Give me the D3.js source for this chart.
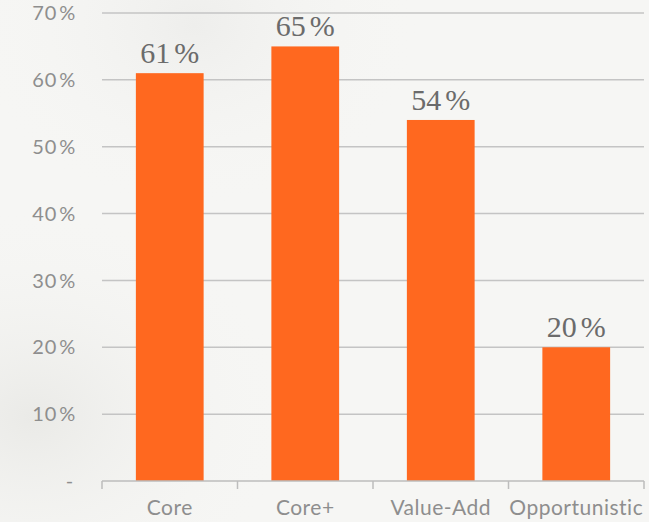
<!DOCTYPE html>
<html>
<head>
<meta charset="utf-8">
<script src="https://cdn.jsdelivr.net/npm/d3@7"></script>
<style>
  html, body { margin: 0; padding: 0; background: #f5f5f3; }
  svg { display: block; }
</style>
</head>
<body>
<svg id="chart" width="649" height="522"></svg>
<script>
// Share of respondents by strategy
const categories = ["Core", "Core+", "Value-Add", "Opportunistic"];
const values = [61, 65, 54, 20];
const yTicks = [0, 10, 20, 30, 40, 50, 60, 70];

const W = 649, H = 522;
const margin = { left: 102, right: 5, top: 13, bottom: 41 };

const svg = d3.select("#chart");

// soft paper-like backdrop
const defs = svg.append("defs");
const g1 = defs.append("radialGradient").attr("id", "bgA")
  .attr("cx", "0.05").attr("cy", "0.8").attr("r", "0.4");
g1.append("stop").attr("offset", "0").attr("stop-color", "#eaeae7");
g1.append("stop").attr("offset", "1").attr("stop-color", "#f6f6f4").attr("stop-opacity", 0);
const g2 = defs.append("radialGradient").attr("id", "bgB")
  .attr("cx", "0.3").attr("cy", "0.05").attr("r", "0.35");
g2.append("stop").attr("offset", "0").attr("stop-color", "#eeeeec");
g2.append("stop").attr("offset", "1").attr("stop-color", "#f6f6f4").attr("stop-opacity", 0);
svg.append("rect").attr("width", W).attr("height", H).attr("fill", "#f6f6f4");
svg.append("rect").attr("width", W).attr("height", H).attr("fill", "url(#bgA)");
svg.append("rect").attr("width", W).attr("height", H).attr("fill", "url(#bgB)");

const x = d3.scaleBand()
  .domain(categories)
  .range([margin.left, W - margin.right])
  .paddingInner(0.5)
  .paddingOuter(0.25);

const y = d3.scaleLinear()
  .domain([0, 70])
  .range([H - margin.bottom, margin.top]);

// horizontal gridlines
svg.append("g")
  .selectAll("line")
  .data(yTicks.filter(d => d > 0))
  .join("line")
  .attr("x1", margin.left)
  .attr("x2", W - margin.right)
  .attr("y1", d => y(d))
  .attr("y2", d => y(d))
  .attr("stroke", "#c4c4c4")
  .attr("stroke-width", 1.5);

// y-axis labels
const yLab = svg.append("g")
  .selectAll("text")
  .data(yTicks)
  .join("text")
  .attr("x", d => d === 0 ? 74 : 76)
  .attr("y", d => y(d))
  .attr("dy", "0.36em")
  .attr("text-anchor", "end")
  .attr("font-family", "Lato, 'Noto Sans', sans-serif")
  .attr("font-size", 20)
  .attr("fill", "#8e8e8e")
  .attr("letter-spacing", 0.8);
yLab.each(function (d) {
  const t = d3.select(this);
  if (d === 0) { t.text("-"); return; }
  t.append("tspan").text(d);
  t.append("tspan").attr("dx", 2).text("%");
});

// bars
svg.append("g")
  .selectAll("rect")
  .data(values)
  .join("rect")
  .attr("x", (d, i) => x(categories[i]))
  .attr("y", d => y(d))
  .attr("width", x.bandwidth())
  .attr("height", d => y(0) - y(d))
  .attr("fill", "#ff681f");

// value labels
const vLab = svg.append("g")
  .selectAll("text")
  .data(values)
  .join("text")
  .attr("x", (d, i) => x(categories[i]) + x.bandwidth() / 2)
  .attr("y", d => y(d) - 10)
  .attr("text-anchor", "middle")
  .attr("font-family", "'Liberation Serif', 'DejaVu Serif', serif")
  .attr("font-size", 30)
  .attr("fill", "#6b6b6b");
vLab.each(function (d) {
  const t = d3.select(this);
  t.append("tspan").text(d);
  t.append("tspan").attr("dx", 4).text("%");
});

// x axis
const xAxis = svg.append("g")
  .attr("transform", `translate(0,${y(0)})`);
xAxis.append("line")
  .attr("x1", margin.left)
  .attr("x2", W - margin.right)
  .attr("stroke", "#bdbdbd")
  .attr("stroke-width", 1.5);
const tickXs = categories.map(c => x(c) - x.step() * x.paddingInner() / 2)
  .concat([W - margin.right]);
tickXs[0] = margin.left;
xAxis.selectAll("line.tick")
  .data(tickXs)
  .join("line")
  .attr("class", "tick")
  .attr("x1", d => d)
  .attr("x2", d => d)
  .attr("y1", 0)
  .attr("y2", 8)
  .attr("stroke", "#bdbdbd")
  .attr("stroke-width", 1.5);
xAxis.selectAll("text")
  .data(categories)
  .join("text")
  .attr("x", d => x(d) + x.bandwidth() / 2)
  .attr("y", 26)
  .attr("dy", "0.36em")
  .attr("text-anchor", "middle")
  .attr("font-family", "Lato, 'Noto Sans', sans-serif")
  .attr("font-size", 21)
  .attr("fill", "#8e8e8e")
  .attr("letter-spacing", 0.5)
  .text(d => d);
</script>
</body>
</html>
